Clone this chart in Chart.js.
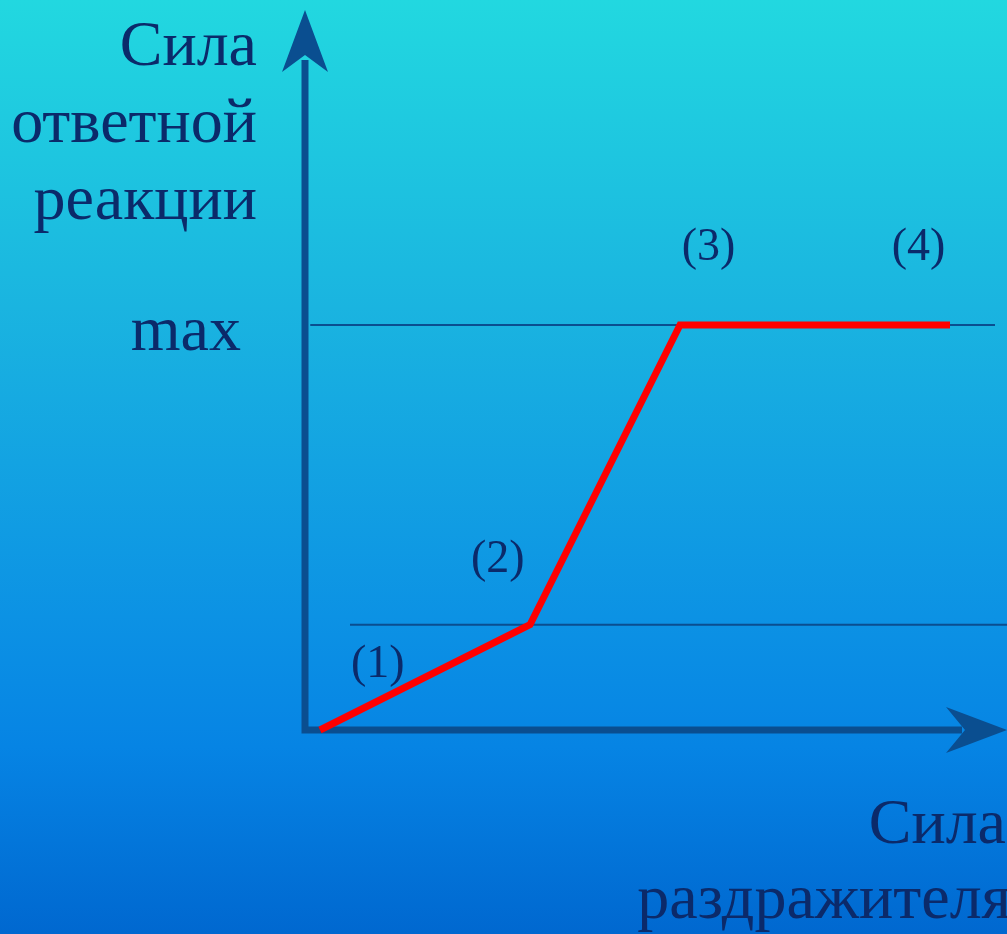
<!DOCTYPE html>
<html>
<head>
<meta charset="utf-8">
<script src="https://cdn.jsdelivr.net/npm/chart.js@4"></script>
<style>
  html, body { margin: 0; padding: 0; overflow: hidden; }
  canvas { display: block; }
</style>
</head>
<body>
<canvas id="chart" width="1007" height="934"></canvas>
<script>
/* Data: stimulus strength vs response strength (schematic units). */
const stimulus = [0.2, 3.0, 5.0, 8.6]
const response = [0, 2.6, 10, 10]

/* Reference levels: max response and threshold. */
const maxLevel = 10
const maxLineX = [0.07, 9.2]
const thresholdLevel = 2.6
const thresholdLineX = [0.6, 9.36]

/* Texts. */
const yAxisTitle = ["Сила", "ответной", "реакции"]
const xAxisTitle = ["Сила", "раздражителя"]
const maxLabel = "max"
const stageLabels = ["(1)", "(2)", "(3)", "(4)"]
const stageLabelX = [0.97, 2.57, 5.38, 8.18]
const stageLabelY = [1.3, 3.9, 11.6, 11.6]

const textColor = "#0b2a6a"
const axisColor = "#0a4e90"
const serif = "'Liberation Serif', 'Times New Roman', serif"

/* Gradient background. */
const backgroundPlugin = {
  id: "background",
  beforeDraw(chart) {
    const ctx = chart.ctx
    const g = ctx.createLinearGradient(0, 0, 0, chart.height)
    g.addColorStop(0, "#22d8e0")
    g.addColorStop(0.33, "#1ab4e0")
    g.addColorStop(0.66, "#0c92e4")
    g.addColorStop(0.8, "#0684e4")
    g.addColorStop(1, "#0068d0")
    ctx.save()
    ctx.fillStyle = g
    ctx.fillRect(0, 0, chart.width, chart.height)
    ctx.restore()
  }
}

/* Axes with arrow heads, drawn under the data. */
const axesPlugin = {
  id: "arrowAxes",
  beforeDatasetsDraw(chart) {
    const ctx = chart.ctx
    const x0 = chart.scales.x.getPixelForValue(0)
    const y0 = chart.scales.y.getPixelForValue(0)
    const top = chart.chartArea.top
    const right = chart.chartArea.right
    ctx.save()
    ctx.strokeStyle = axisColor
    ctx.fillStyle = axisColor
    ctx.lineWidth = 7
    ctx.beginPath()
    ctx.moveTo(x0, y0 + 3.5)
    ctx.lineTo(x0, top + 50)
    ctx.moveTo(x0, y0)
    ctx.lineTo(right - 45, y0)
    ctx.stroke()

    ctx.beginPath()
    ctx.moveTo(x0, top)
    ctx.lineTo(x0 + 23, top + 62)
    ctx.lineTo(x0, top + 45)
    ctx.lineTo(x0 - 23, top + 62)
    ctx.closePath()
    ctx.fill()

    ctx.beginPath()
    ctx.moveTo(right, y0)
    ctx.lineTo(right - 61, y0 - 23)
    ctx.lineTo(right - 42, y0)
    ctx.lineTo(right - 61, y0 + 23)
    ctx.closePath()
    ctx.fill()
    ctx.restore()
  }
}

/* Text labels. */
const textPlugin = {
  id: "texts",
  afterDraw(chart) {
    const ctx = chart.ctx
    const xs = chart.scales.x
    const ys = chart.scales.y
    ctx.save()
    ctx.fillStyle = textColor
    ctx.textBaseline = "alphabetic"

    ctx.font = "64px " + serif
    ctx.textAlign = "right"
    yAxisTitle.forEach((t, i) => ctx.fillText(t, 257, 65 + i * 77))
    ctx.fillText(maxLabel, 241, ys.getPixelForValue(maxLevel) + 25)
    ctx.fillText(xAxisTitle[0], 1006, 843)
    ctx.fillText(xAxisTitle[1], 1011, 918)

    ctx.font = "46px " + serif
    ctx.textAlign = "center"
    stageLabels.forEach((t, i) => {
      ctx.fillText(t, xs.getPixelForValue(stageLabelX[i]), ys.getPixelForValue(stageLabelY[i]))
    })
    ctx.restore()
  }
}

const toPoints = (xArr, yArr) => xArr.map((x, i) => ({ x, y: yArr[i] }))

const chart = new Chart(document.getElementById("chart"), {
  type: "scatter",
  data: {
    datasets: [{
      label: "response",
      data: toPoints(stimulus, response),
      showLine: true,
      borderColor: "#ff0000",
      borderWidth: 7,
      borderJoinStyle: "miter",
      pointRadius: 0,
      clip: false
    }, {
      label: "max",
      data: toPoints(maxLineX, [maxLevel, maxLevel]),
      showLine: true,
      borderColor: axisColor,
      borderWidth: 2,
      pointRadius: 0,
      clip: false
    }, {
      label: "threshold",
      data: toPoints(thresholdLineX, [thresholdLevel, thresholdLevel]),
      showLine: true,
      borderColor: axisColor,
      borderWidth: 2,
      pointRadius: 0,
      clip: false
    }]
  },
  options: {
    responsive: false,
    animation: false,
    layout: {
      padding: { left: 305, right: 0, top: 10, bottom: 204 }
    },
    scales: {
      x: { type: "linear", min: 0, max: 9.36, display: false },
      y: { type: "linear", min: 0, max: 17.78, display: false }
    },
    plugins: {
      legend: { display: false },
      tooltip: { enabled: false }
    }
  },
  plugins: [backgroundPlugin, axesPlugin, textPlugin]
})
</script>
</body>
</html>
